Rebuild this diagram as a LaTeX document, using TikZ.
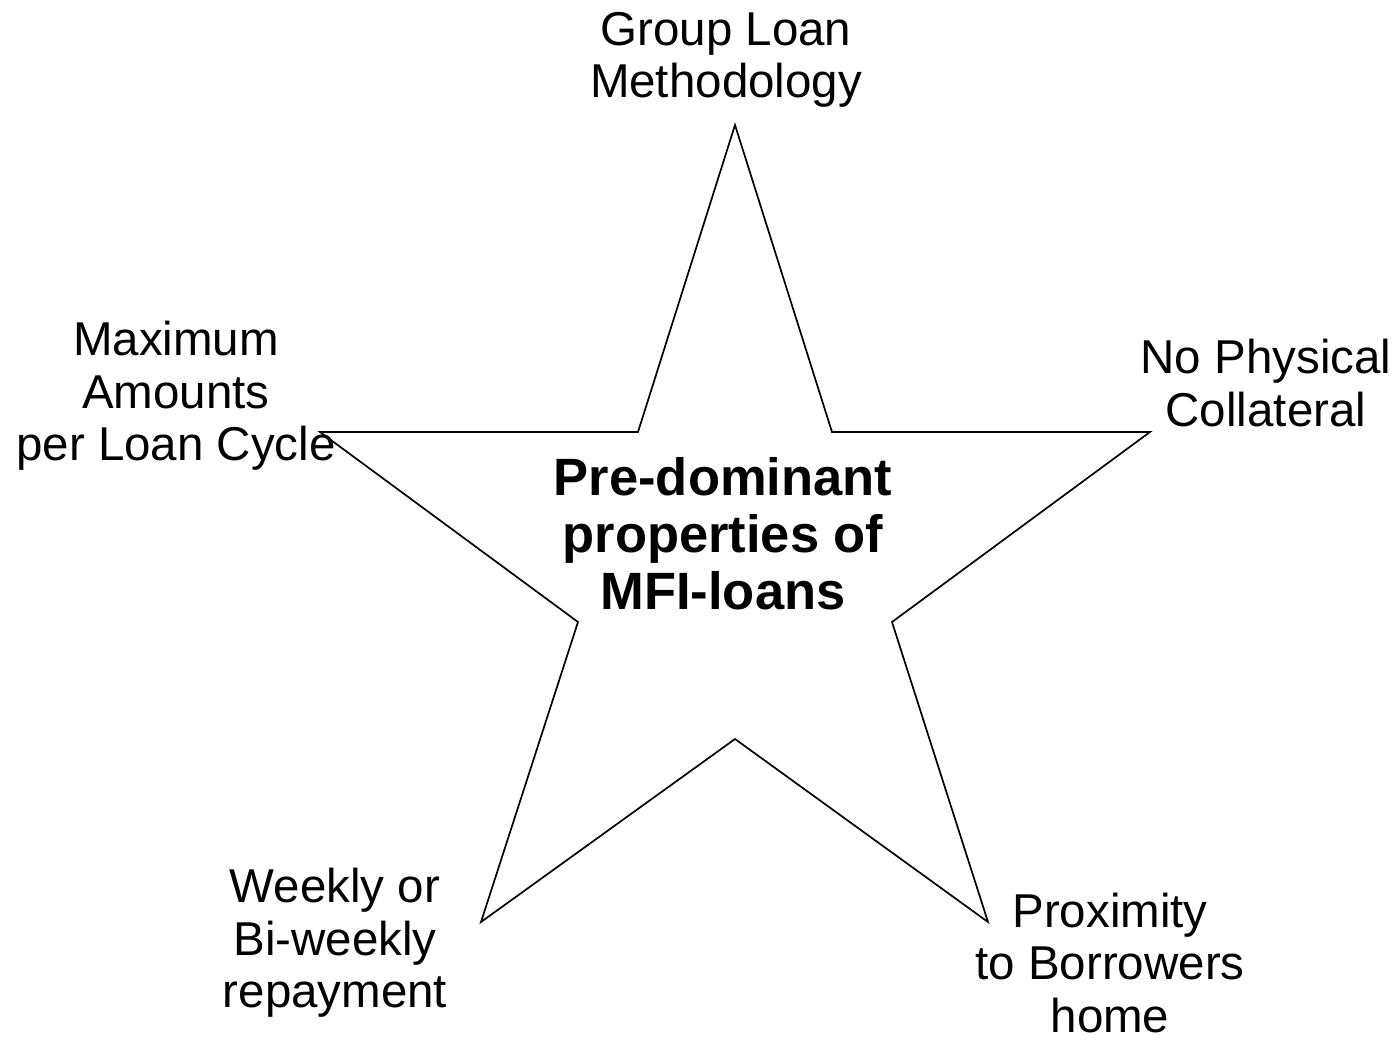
\documentclass[tikz,border=0pt]{standalone}
\usepackage{fontspec}
\setmainfont{Liberation Sans}
\begin{document}
\begin{tikzpicture}[x=1pt,y=-1pt,
  lbl/.style={align=center,font=\fontsize{47.5}{52.5}\selectfont,inner sep=0pt},
  ctr/.style={align=center,font=\fontsize{52.5}{57}\selectfont\bfseries,inner sep=0pt},
  starline/.style={draw=black,line width=1.7pt,line join=miter}]
\useasboundingbox (0,0) rectangle (1397,1040);
\coordinate (p1) at (735,125);
\coordinate (p2) at (832,432);
\coordinate (p3) at (1150,432);
\coordinate (p4) at (892,622);
\coordinate (p5) at (988,922);
\coordinate (p6) at (735,739);
\coordinate (p7) at (481,922);
\coordinate (p8) at (578,622);
\coordinate (p9) at (320,432);
\coordinate (p10) at (638,432);
\draw[starline] (p1) -- (p2) -- (p3) -- (p4) -- (p5) -- (p6) -- (p7) -- (p8) -- (p9) -- (p10) -- cycle;
\node[lbl] (top) at (726,60) {Group Loan\\Methodology};
\node[lbl] (left) at (176,396) {Maximum\\Amounts\\per Loan Cycle};
\node[lbl] (right) at (1266,383) {No Physical\\Collateral};
\node[ctr] (center) at (723,534) {Pre-dominant\\properties of\\MFI-loans};
\node[lbl] (bl) at (335,943) {Weekly or\\Bi-weekly\\repayment};
\node[lbl] (br) at (1110,963) {Proximity\\to Borrowers\\home};
\end{tikzpicture}
\end{document}
